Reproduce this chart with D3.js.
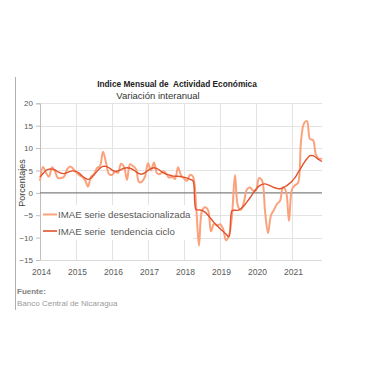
<!DOCTYPE html>
<html><head><meta charset="utf-8">
<script src="https://cdn.jsdelivr.net/npm/d3@7"></script>
<style>body{margin:0;background:#fff}svg{display:block}text{font-family:"Liberation Sans",Arial,sans-serif}</style>
</head><body><svg id="c" width="380" height="380"></svg>
<script>
const years = ["2014","2015","2016","2017","2018","2019","2020","2021"];
const yTicks = [20,15,10,5,0,-5,-10,-15];
const seriesNames = ["IMAE serie desestacionalizada","IMAE serie  tendencia ciclo"];
// monthly, Jan 2014 .. Nov 2021
const desest = [2.7,5.8,4.5,3.6,5.7,4.8,3.3,3.3,3.6,5.2,5.9,5.4,
  4.6,4.0,3.6,2.9,1.4,3.6,4.2,5.5,6.0,9.2,6.8,4.2,
  4.0,4.7,4.5,6.5,5.8,2.9,6.4,6.0,5.3,2.4,2.5,3.6,
  6.6,5.0,6.8,4.4,4.2,4.8,4.4,3.4,3.6,3.1,5.7,4.0,
  3.2,2.7,4.0,3.6,-2.5,-11.8,-4.0,-3.2,-3.8,-8.6,-6.9,-7.3,
  -7.0,-8.0,-10.6,-9.5,-5.0,4.0,-3.0,-3.8,-2.0,0.8,1.2,0.5,
  0.6,3.3,2.8,-4.0,-9.0,-5.0,-3.8,-2.5,-1.8,1.3,0.3,-6.3,
  0.8,1.7,2.2,11.5,15.5,16.0,12.0,11.8,8.5,7.6,7.7];
const tendencia = [3.5,4.3,5.0,5.3,5.3,5.1,4.7,4.4,4.3,4.5,4.8,4.9,
  4.8,4.4,3.8,3.3,3.0,3.3,4.0,4.8,5.5,5.9,5.9,5.6,
  5.1,4.8,4.9,5.2,5.5,5.6,5.5,5.2,4.7,4.3,4.2,4.5,
  5.0,5.4,5.6,5.4,5.0,4.5,4.2,4.0,3.8,3.7,3.7,3.6,
  3.5,3.3,3.0,2.7,-3.7,-3.8,-3.9,-4.3,-5.0,-5.8,-6.6,-7.3,
  -8.0,-8.6,-9.2,-9.8,-4.0,-3.9,-3.9,-3.5,-2.9,-2.0,-1.1,-0.1,
  0.8,1.5,1.9,2.0,1.8,1.5,1.2,1.0,0.9,1.1,1.5,2.0,
  2.6,3.4,4.5,5.6,6.7,7.6,8.3,8.3,7.9,7.4,7.0];

const svg = d3.select("#c");
svg.append("rect").attr("width",380).attr("height",380).attr("fill","#fff");
const x = d3.scaleLinear().domain([0, desest.length-1]).range([40, 322]);
const y = d3.scaleLinear().domain([-15, 20]).range([260, 103.3]);

// outer left border line
svg.append("line").attr("x1",15.5).attr("x2",15.5).attr("y1",77).attr("y2",310)
  .attr("stroke","#b0b0b0").attr("stroke-width",1);

// titles
svg.append("text").attr("x",177).attr("y",87).attr("text-anchor","middle")
  .attr("font-size",8.3).attr("font-weight","bold").attr("fill","#222").style("white-space","pre")
  .text("Indice Mensual de  Actividad Económica");
svg.append("text").attr("x",158).attr("y",98.5).attr("text-anchor","middle")
  .attr("font-size",9.5).attr("fill","#333").text("Variación interanual");

// grid
const g = svg.append("g");
g.selectAll("line.h").data(yTicks.filter(v=>v!==0 && v!==-15)).join("line")
  .attr("x1",40).attr("x2",322).attr("y1",d=>Math.round(y(d))+0.5).attr("y2",d=>Math.round(y(d))+0.5)
  .attr("stroke","#e3e3e3");
g.selectAll("line.v").data(years.slice(1).map((d,i)=>(i+1)*12)).join("line")
  .attr("x1",d=>Math.round(x(d))+0.5).attr("x2",d=>Math.round(x(d))+0.5).attr("y1",103.3).attr("y2",260)
  .attr("stroke","#e3e3e3");

// y axis
const yAxis = d3.axisLeft(y).tickValues(yTicks).tickSize(4).tickPadding(3);
const ya = svg.append("g").attr("transform","translate(40,0)").call(yAxis);
ya.select(".domain").attr("stroke","#bfbfbf");
ya.selectAll(".tick line").attr("stroke","#bfbfbf");
ya.selectAll(".tick text").attr("font-size",8).attr("fill","#595959").attr("font-family","Liberation Sans, Arial, sans-serif");

// x axis
const xAxis = d3.axisBottom(x).tickValues(years.map((d,i)=>i*12)).tickFormat((d,i)=>years[i]).tickSize(0).tickPadding(9);
const xa = svg.append("g").attr("transform","translate(1,260)").call(xAxis);
xa.select(".domain").remove();
xa.selectAll(".tick text").attr("font-size",8.5).attr("fill","#595959").attr("font-family","Liberation Sans, Arial, sans-serif");
svg.append("line").attr("x1",40).attr("x2",322).attr("y1",260.5).attr("y2",260.5).attr("stroke","#d9d9d9");

// zero line
svg.append("line").attr("x1",40).attr("x2",322).attr("y1",y(0)).attr("y2",y(0))
  .attr("stroke","#808080").attr("stroke-width",1.3);

// y title
svg.append("text").attr("transform","translate(25,183) rotate(-90)").attr("text-anchor","middle")
  .attr("font-size",9).attr("fill","#404040").text("Porcentajes");

// legend background
svg.append("rect").attr("x",41).attr("y",205).attr("width",152).attr("height",35).attr("fill","#fff");

// lines
const curve = d3.curveCatmullRom.alpha(0.5);
const line = d3.line().x((d,i)=>x(i)).y(d=>y(d)).curve(curve);
svg.append("path").datum(desest).attr("d",line).attr("fill","none")
  .attr("stroke","#fba27c").attr("stroke-width",2);
svg.append("path").datum(tendencia).attr("d",line).attr("fill","none")
  .attr("stroke","#e0532d").attr("stroke-width",1.4);

// legend
const legColors = ["#fba27c","#e0532d"];
const legW = [2,1.6];
const legY = [214.5,231];
seriesNames.forEach((n,i)=>{
  svg.append("line").attr("x1",43).attr("x2",57).attr("y1",legY[i]).attr("y2",legY[i])
    .attr("stroke",legColors[i]).attr("stroke-width",legW[i]);
  svg.append("text").attr("x",58).attr("y",legY[i]+3.6).attr("font-size",9.7).attr("fill","#595959")
    .style("white-space","pre").text(n);
});

// source
svg.append("text").attr("x",17).attr("y",294).attr("font-size",8).attr("font-weight","bold")
  .attr("fill","#808080").text("Fuente:");
svg.append("text").attr("x",17).attr("y",306).attr("font-size",8).attr("fill","#9a9a9a")
  .text("Banco Central de Nicaragua");
</script></body></html>
